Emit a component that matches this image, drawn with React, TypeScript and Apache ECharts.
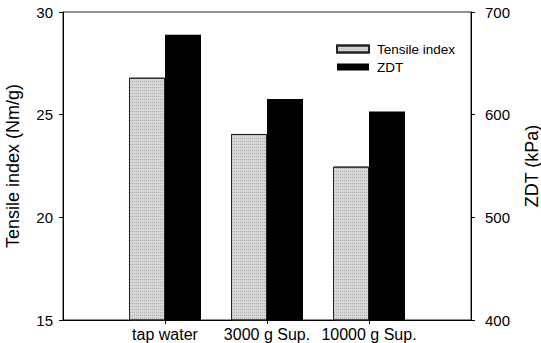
import React, { useEffect, useRef } from "react";
import * as echarts from "echarts";

const categories = ["tap water", "3000 g Sup.", "10000 g Sup."];
const tensileIndex = [26.8, 24.06, 22.47];
const zdt = [677.9, 615.3, 603.2];
const leftTicks = { min: 15, max: 30, interval: 5 };
const rightTicks = { min: 400, max: 700, interval: 100 };

const FONT = "'Liberation Sans', Arial, Helvetica, sans-serif";

export default function App() {
  const ref = useRef<HTMLDivElement>(null);
  useEffect(() => {
    if (!ref.current) return;
    const chart = echarts.init(ref.current, null, { renderer: "svg" });
    const axisCats = ["", ...categories, ""];
    const pad = (arr: number[]) => ["-", ...arr, "-"];
    chart.setOption({
      animation: false,
      backgroundColor: "#fff",
      textStyle: { fontFamily: FONT, color: "#000" },
      grid: {
        left: 63,
        right: 70,
        top: 12,
        bottom: 23,
        show: true,
        borderColor: "#222",
        borderWidth: 1,
        outerBoundsMode: "none",
        containLabel: false,
      },
      legend: {
        orient: "vertical",
        left: 331,
        top: 37,
        itemWidth: 32,
        itemHeight: 7,
        itemGap: 4,
        icon: "rect",
        textStyle: { fontSize: 13.5, color: "#000", fontFamily: FONT, padding: [0, 0, 0, 3] },
        data: ["Tensile index", "ZDT"],
      },
      xAxis: {
        type: "category",
        data: axisCats,
        boundaryGap: false,
        axisLine: { lineStyle: { color: "#000", width: 1 } },
        axisTick: {
          show: true,
          length: 4,
          inside: false,
          interval: (i: number) => i > 0 && i < axisCats.length - 1,
          lineStyle: { color: "#000" },
        },
        axisLabel: {
          interval: 0,
          margin: 6,
          fontSize: 16,
          color: "#000",
          fontFamily: FONT,
        },
        splitLine: { show: false },
      },
      yAxis: [
        {
          type: "value",
          min: leftTicks.min,
          max: leftTicks.max,
          interval: leftTicks.interval,
          name: "Tensile index (Nm/g)",
          nameLocation: "middle",
          nameGap: 41,
          nameTextStyle: { fontSize: 18, color: "#000", fontFamily: FONT },
          axisLine: { show: true, lineStyle: { color: "#000", width: 1 } },
          axisTick: { show: true, length: 4, lineStyle: { color: "#000" } },
          axisLabel: { fontSize: 15, color: "#000", margin: 10, fontFamily: FONT },
          splitLine: { show: false },
        },
        {
          type: "value",
          position: "right",
          min: rightTicks.min,
          max: rightTicks.max,
          interval: rightTicks.interval,
          name: "ZDT (kPa)",
          nameLocation: "middle",
          nameGap: 52,
          nameRotate: 90,
          nameTextStyle: { fontSize: 18, color: "#000", fontFamily: FONT },
          axisLine: { show: true, lineStyle: { color: "#000", width: 1 } },
          axisTick: { show: true, length: 4, lineStyle: { color: "#000" } },
          axisLabel: { fontSize: 15, color: "#000", margin: 14, fontFamily: FONT },
          splitLine: { show: false },
        },
      ],
      series: [
        {
          name: "Tensile index",
          type: "bar",
          yAxisIndex: 0,
          data: pad(tensileIndex),
          barWidth: 36,
          barGap: "0%",
          itemStyle: {
            color: "#d6d6d6",
            borderColor: "#222",
            borderWidth: 1,
            decal: {
              symbol: "rect",
              symbolSize: 1,
              dashArrayX: [1, 1],
              dashArrayY: [1, 2],
              color: "rgba(0,0,0,0.18)",
              rotation: 0,
            },
          },
        },
        {
          name: "ZDT",
          type: "bar",
          yAxisIndex: 1,
          data: pad(zdt),
          barWidth: 36,
          barGap: "0%",
          itemStyle: { color: "#000", borderColor: "#000", borderWidth: 0 },
        },
      ],
    });
    return () => chart.dispose();
  }, []);
  return <div ref={ref} style={{ width: 541, height: 343, position: "absolute", left: 0, top: 0 }} />;
}
